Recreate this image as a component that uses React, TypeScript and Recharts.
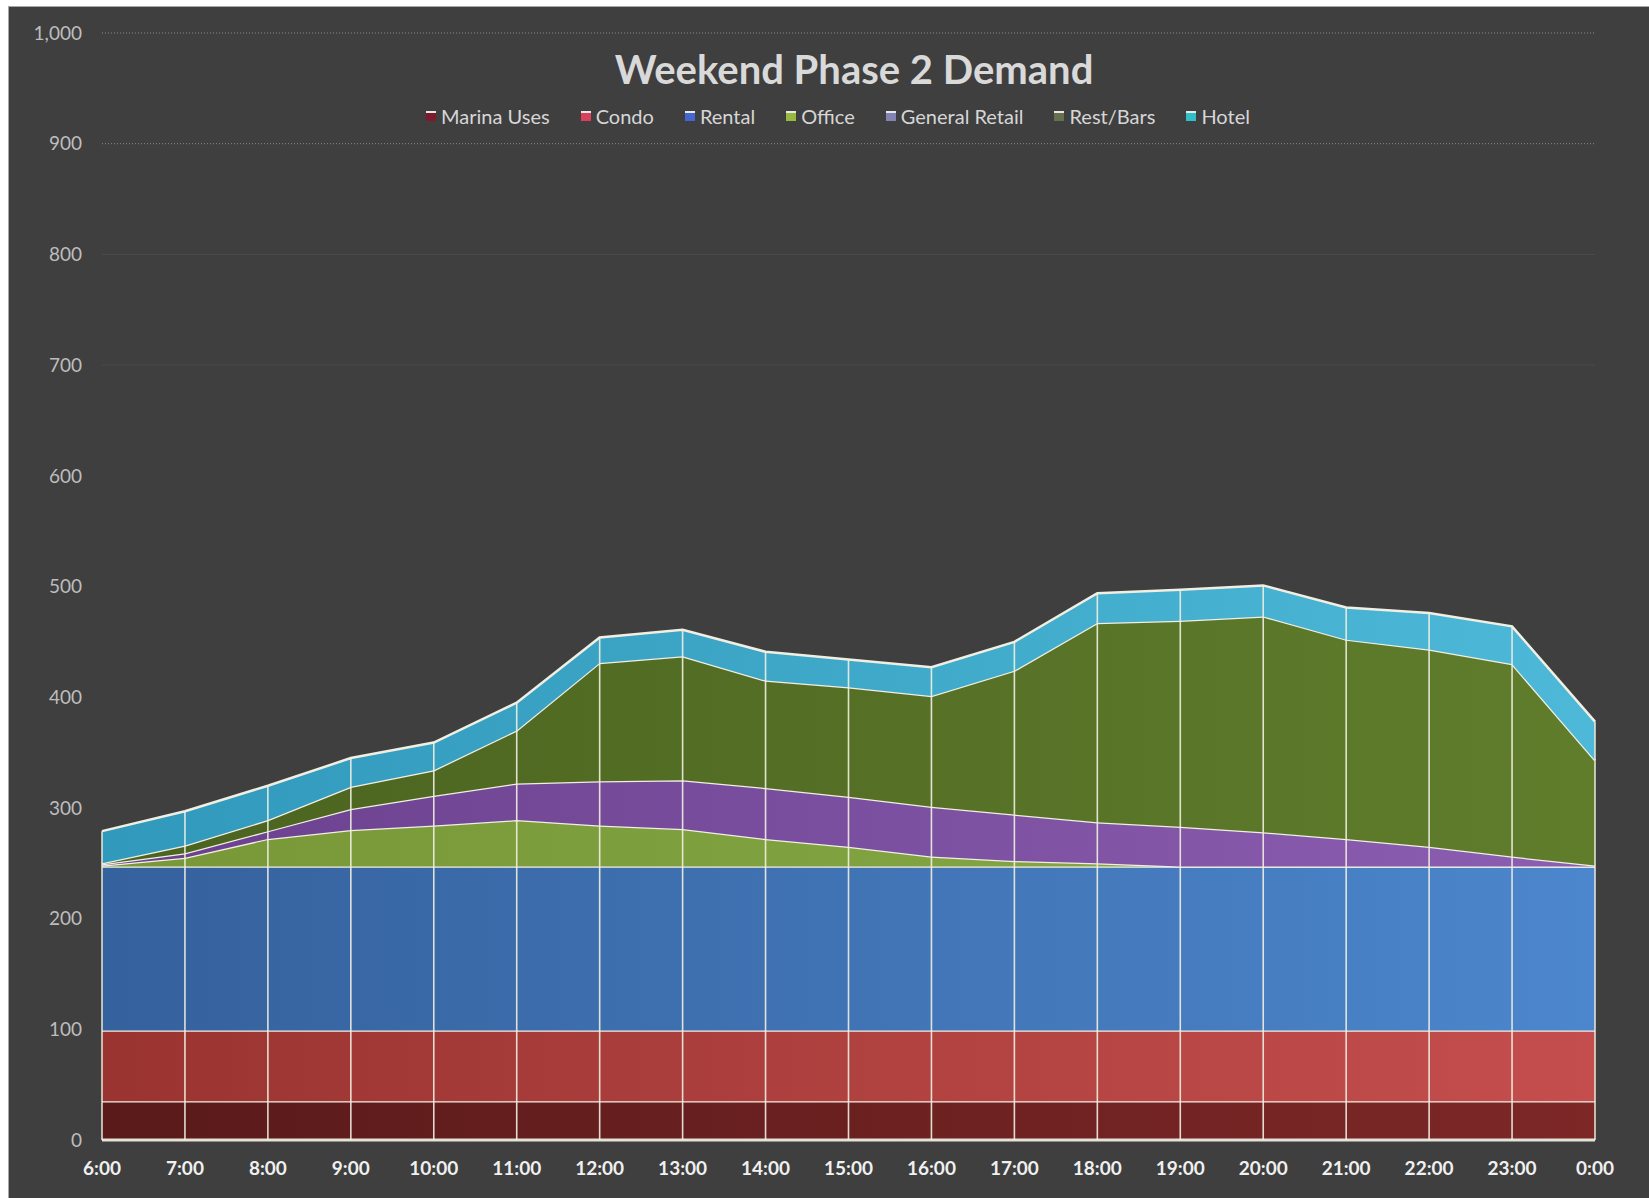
import React from "react";
import { AreaChart, Area, XAxis, YAxis, ReferenceLine, Legend } from "recharts";

// hourly parking demand, weekend, phase 2
const hours = ["6:00", "7:00", "8:00", "9:00", "10:00", "11:00", "12:00", "13:00", "14:00", "15:00", "16:00", "17:00", "18:00", "19:00", "20:00", "21:00", "22:00", "23:00", "0:00"];
const marinaUses = [35, 35, 35, 35, 35, 35, 35, 35, 35, 35, 35, 35, 35, 35, 35, 35, 35, 35, 35];
const condo = [64, 64, 64, 64, 64, 64, 64, 64, 64, 64, 64, 64, 64, 64, 64, 64, 64, 64, 64];
const rental = [148, 148, 148, 148, 148, 148, 148, 148, 148, 148, 148, 148, 148, 148, 148, 148, 148, 148, 148];
const office = [1, 8, 25, 33, 37, 42, 37, 34, 25, 18, 9, 5, 3, 0, 0, 0, 0, 0, 0];
const generalRetail = [1, 4, 7, 19, 27, 33, 40, 44, 46, 45, 45, 42, 37, 36, 31, 25, 18, 9, 1];
const restBars = [1, 7, 10, 20, 23, 48, 107, 112, 97, 99, 100, 130, 180, 186, 195, 180, 178, 174, 95];
const hotel = [29, 31, 31, 26, 25, 25, 23, 24, 26, 25, 26, 26, 27, 28, 28, 29, 33, 34, 35];
const yTicks = [0, 100, 200, 300, 400, 500, 600, 700, 800, 900, 1000];

const data = hours.map((hour, i) => ({
  hour,
  marina: marinaUses[i],
  condo: condo[i],
  rental: rental[i],
  office: office[i],
  retail: generalRetail[i],
  rest: restBars[i],
  hotel: hotel[i],
}));

const series = [
  { key: "marina", name: "Marina Uses", from: "#5a1a1a", to: "#7d2727", icon: "#7a1c2c" },
  { key: "condo", name: "Condo", from: "#9a3431", to: "#c44e4d", icon: "#d9405a" },
  { key: "rental", name: "Rental", from: "#35619d", to: "#4c86cc", icon: "#4466d0" },
  { key: "office", name: "Office", from: "#789838", to: "#88aa46", icon: "#98b840" },
  { key: "retail", name: "General Retail", from: "#6a408d", to: "#8c5eb2", icon: "#8484b4" },
  { key: "rest", name: "Rest/Bars", from: "#4a631f", to: "#607d2c", icon: "#66704e" },
  { key: "hotel", name: "Hotel", from: "#3199bb", to: "#4db8d8", icon: "#2fbfc6" },
];

const W = 1640;
const H = 1191;
const margin = { top: 26, right: 54, bottom: 18, left: 0 };
const X_AXIS_H = 40;
const PLOT_BOTTOM = H - margin.bottom - X_AXIS_H;
const EDGE = "#f1efe2";
const FONT = "Lato, 'Open Sans', sans-serif";

function DropLine(props: any) {
  const { cx, cy, index } = props;
  if (cx == null || cy == null) return <g key={index} />;
  return (
    <line key={index} x1={cx} x2={cx} y1={cy} y2={PLOT_BOTTOM}
      stroke={EDGE} strokeOpacity={0.9} strokeWidth={1.6} />
  );
}

function LegendRow() {
  return (
    <div style={{ display: "flex", justifyContent: "center", gap: 31, paddingLeft: 18, fontFamily: FONT, fontSize: 20, color: "#d6d6d6" }}>
      {series.map((s) => (
        <div key={s.key} style={{ display: "flex", alignItems: "center" }}>
          <span style={{ width: 10, height: 10, background: s.icon, borderTop: "2px solid #e8e8e8", boxSizing: "border-box", marginRight: 5 }} />
          <span>{s.name}</span>
        </div>
      ))}
    </div>
  );
}

export default function App() {
  return (
    <div style={{ position: "absolute", left: 8, top: 6, width: W + 1, height: H + 1, background: "#3f3f3f", borderLeft: "1px solid #a8a8a8", borderTop: "1px solid #a8a8a8" }}>
      <div style={{ position: "absolute", left: 445, top: 38, width: 800, textAlign: "center", fontFamily: FONT, fontWeight: 700, fontSize: 40, lineHeight: "48px", color: "#d9d9d9", zIndex: 2 }}>
        Weekend Phase 2 Demand
      </div>
      <AreaChart width={W} height={H} data={data} margin={margin}>
        <defs>
          {series.map((s) => (
            <linearGradient key={s.key} id={"g-" + s.key} x1="0" y1="0" x2="1" y2="0">
              <stop offset="0%" stopColor={s.from} />
              <stop offset="100%" stopColor={s.to} />
            </linearGradient>
          ))}
        </defs>
        <XAxis dataKey="hour" height={X_AXIS_H} axisLine={false} tickLine={false} tickSize={0} tickMargin={22} interval={0}
          tick={{ fill: "#f0f0f0", fontSize: 19, fontWeight: 700, fontFamily: FONT }} />
        <YAxis width={93} domain={[0, 1000]} ticks={yTicks} axisLine={false} tickLine={false} tickSize={0} tickMargin={20}
          tickFormatter={(v: number) => v.toLocaleString("en-US")}
          tick={{ fill: "#bdbdbd", fontSize: 19, fontFamily: FONT }} />
        <ReferenceLine y={1000} stroke="#8c8c8c" strokeDasharray="1 2" />
        <ReferenceLine y={900} stroke="#8c8c8c" strokeDasharray="1 2" />
        <ReferenceLine y={800} stroke="#4d4d4d" />
        <ReferenceLine y={700} stroke="#4a4a4a" />
        <Legend verticalAlign="middle" align="center" layout="horizontal" content={() => <LegendRow />}
          wrapperStyle={{ top: 97, left: 0, width: W }} />
        {series.map((s) => (
          <Area key={s.key} type="linear" dataKey={s.key} name={s.name} stackId="1"
            stroke={EDGE} strokeWidth={2.5} fill={`url(#g-${s.key})`} fillOpacity={1}
            dot={s.key === "hotel" ? DropLine : false} activeDot={false} isAnimationActive={false} />
        ))}
        <ReferenceLine y={0} stroke="#e4e2d6" strokeWidth={3} />
      </AreaChart>
    </div>
  );
}
